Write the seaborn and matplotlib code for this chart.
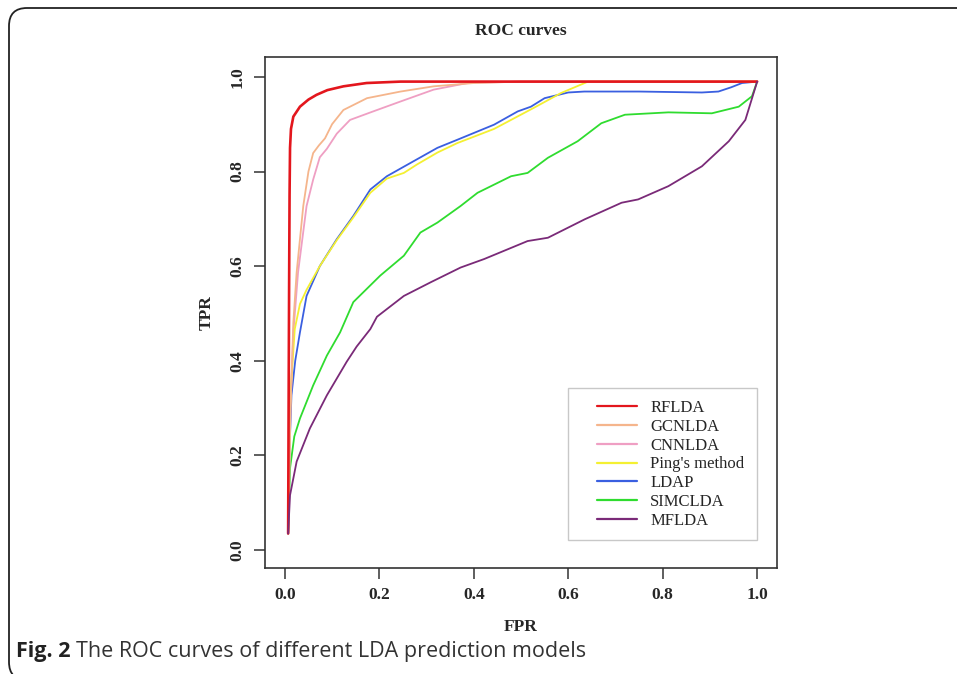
import numpy as np
import pandas as pd
import seaborn as sns
from matplotlib import pyplot as plt
from matplotlib.patches import FancyBboxPatch, Rectangle
from matplotlib.transforms import IdentityTransform

models = ["RFLDA", "GCNLDA", "CNNLDA", "Ping's method", "LDAP", "SIMCLDA", "MFLDA"]
colori = ["#e3161d", "#f5b58c", "#ef9fc3", "#f4f032", "#3a5fe0", "#2fdc2f", "#7a2a78"]

rf_x = [0.007, 0.008, 0.009, 0.010, 0.011, 0.013, 0.018, 0.032, 0.05, 0.067, 0.09, 0.124, 0.173, 0.245, 0.4, 0.6, 0.8, 1.0]
rf_y = [0.035, 0.3, 0.55, 0.75, 0.85, 0.89, 0.916, 0.937, 0.952, 0.962, 0.972, 0.98, 0.987, 0.99, 0.99, 0.99, 0.99, 0.99]

gcn_x = [0.007, 0.012, 0.018, 0.025, 0.039, 0.05, 0.06, 0.072, 0.085, 0.1, 0.124, 0.174, 0.245, 0.315, 0.4, 0.5, 0.7, 1.0]
gcn_y = [0.035, 0.3, 0.481, 0.587, 0.727, 0.8, 0.839, 0.855, 0.87, 0.9, 0.93, 0.955, 0.969, 0.98, 0.987, 0.99, 0.99, 0.99]

cnn_x = [0.007, 0.012, 0.018, 0.028, 0.046, 0.06, 0.074, 0.089, 0.11, 0.138, 0.187, 0.245, 0.315, 0.387, 0.5, 0.7, 1.0]
cnn_y = [0.035, 0.3, 0.46, 0.587, 0.727, 0.783, 0.83, 0.848, 0.88, 0.909, 0.927, 0.948, 0.973, 0.987, 0.99, 0.99, 0.99]

ping_x = [0.007, 0.009, 0.012, 0.021, 0.032, 0.046, 0.074, 0.11, 0.145, 0.181, 0.216, 0.252, 0.28, 0.323, 0.365, 0.443,
          0.528, 0.585, 0.642, 0.7, 0.85, 1.0]
ping_y = [0.035, 0.2, 0.33, 0.467, 0.52, 0.55, 0.6, 0.655, 0.703, 0.755, 0.785, 0.797, 0.815, 0.84, 0.86, 0.89,
          0.935, 0.966, 0.99, 0.99, 0.99, 0.99]

ldap_x = [0.007, 0.009, 0.014, 0.022, 0.032, 0.046, 0.074, 0.11, 0.145, 0.181, 0.216, 0.273, 0.323, 0.365, 0.443, 0.493,
          0.521, 0.55, 0.6, 0.634, 0.75, 0.883, 0.918, 0.945, 0.968, 1.0]
ldap_y = [0.035, 0.187, 0.327, 0.40, 0.46, 0.537, 0.6, 0.657, 0.706, 0.762, 0.79, 0.822, 0.85, 0.867, 0.899, 0.927,
          0.937, 0.955, 0.967, 0.969, 0.969, 0.967, 0.969, 0.978, 0.987, 0.99]

sim_x = [0.007, 0.011, 0.02, 0.032, 0.06, 0.089, 0.117, 0.145, 0.202, 0.252, 0.287, 0.323, 0.372, 0.408, 0.479, 0.514,
         0.557, 0.62, 0.67, 0.72, 0.812, 0.904, 0.961, 0.989, 1.0]
sim_y = [0.035, 0.173, 0.24, 0.278, 0.348, 0.411, 0.46, 0.524, 0.58, 0.622, 0.671, 0.692, 0.727, 0.755, 0.79, 0.797,
         0.829, 0.864, 0.902, 0.92, 0.925, 0.923, 0.937, 0.959, 0.99]

mf_x = [0.007, 0.011, 0.025, 0.053, 0.089, 0.131, 0.152, 0.181, 0.195, 0.252, 0.309, 0.372, 0.422, 0.514, 0.557, 0.635,
        0.713, 0.748, 0.812, 0.883, 0.94, 0.975, 1.0]
mf_y = [0.035, 0.116, 0.187, 0.257, 0.327, 0.398, 0.43, 0.467, 0.493, 0.537, 0.566, 0.597, 0.615, 0.653, 0.66, 0.699,
        0.734, 0.741, 0.769, 0.811, 0.864, 0.909, 0.99]

curve = {
    "RFLDA": (rf_x, rf_y),
    "GCNLDA": (gcn_x, gcn_y),
    "CNNLDA": (cnn_x, cnn_y),
    "Ping's method": (ping_x, ping_y),
    "LDAP": (ldap_x, ldap_y),
    "SIMCLDA": (sim_x, sim_y),
    "MFLDA": (mf_x, mf_y),
}
ordine = [6, 5, 3, 4, 2, 1, 7]  # ordine di disegno

sns.set_style("white")
plt.rcParams["font.family"] = ["Liberation Serif", "DejaVu Serif"]

W, H = 957, 674
fig = plt.figure(figsize=(W / 100, H / 100), dpi=100)
ax = fig.add_axes([265 / W, (H - 568) / H, 512 / W, 511 / H])

for i, nome in enumerate(models):
    xs, ys = curve[nome]
    df = pd.DataFrame({"FPR": xs, "TPR": ys})
    sns.lineplot(data=df, x="FPR", y="TPR", sort=False, estimator=None, color=colori[i],
                 linewidth=1.9 if nome == "RFLDA" else 1.3, label=nome, zorder=ordine[i], ax=ax)

ax.set_xlim(-0.042, 1.042)
ax.set_ylim(-0.038, 1.042)
ticks = [0.0, 0.2, 0.4, 0.6, 0.8, 1.0]
ax.set_xticks(ticks)
ax.set_yticks(ticks)
ax.set_xticklabels([f"{t:.1f}" for t in ticks], fontsize=12.5, fontweight="bold")
ax.set_yticklabels([f"{t:.1f}" for t in ticks], fontsize=12.5, fontweight="bold", rotation=90, va="center")
ax.tick_params(direction="out", length=8, width=1.1, color="#333333", pad=6, bottom=True, left=True)
for s in ax.spines.values():
    s.set_color("#333333")
    s.set_linewidth(1.2)

ax.set_xlabel("FPR", fontsize=12.5, fontweight="bold", labelpad=11)
ax.set_ylabel("TPR", fontsize=12.5, fontweight="bold", labelpad=11)
fig.text(521 / W, 1 - 31 / H, "ROC curves", ha="center", va="center", fontsize=12.5, fontweight="bold")

# legenda
leg = ax.legend(loc="upper left", bbox_to_anchor=(597 / W, 1 - 400 / H), bbox_transform=fig.transFigure,
                frameon=False, fontsize=12, handlelength=2.4, handletextpad=0.8, labelspacing=0.17,
                borderpad=0, borderaxespad=0)
for line in leg.get_lines():
    line.set_linewidth(1.6)
fig.patches.append(Rectangle((568, H - 540), 189, 152, transform=IdentityTransform(), fill=False,
                             edgecolor="#c8c8c8", linewidth=1.0, figure=fig))

# cornice e didascalia
fig.patches.append(FancyBboxPatch((9, -6), 1100, H - 8 + 6, boxstyle="round,pad=0,rounding_size=18",
                                  transform=IdentityTransform(), fill=False, edgecolor="#222222",
                                  linewidth=1.3, figure=fig))
fig.canvas.draw()
t1 = fig.text(16 / W, 1 - 651 / H, "Fig. 2", fontsize=15.5, fontweight="bold", family="Open Sans",
              va="center", color="#222222")
bb = t1.get_window_extent(fig.canvas.get_renderer())
fig.text((bb.x1 + 5) / W, 1 - 651 / H, "The ROC curves of different LDA prediction models", fontsize=15.5,
         family="Open Sans", va="center", color="#333333")

fig.savefig("out.png", dpi=100)
